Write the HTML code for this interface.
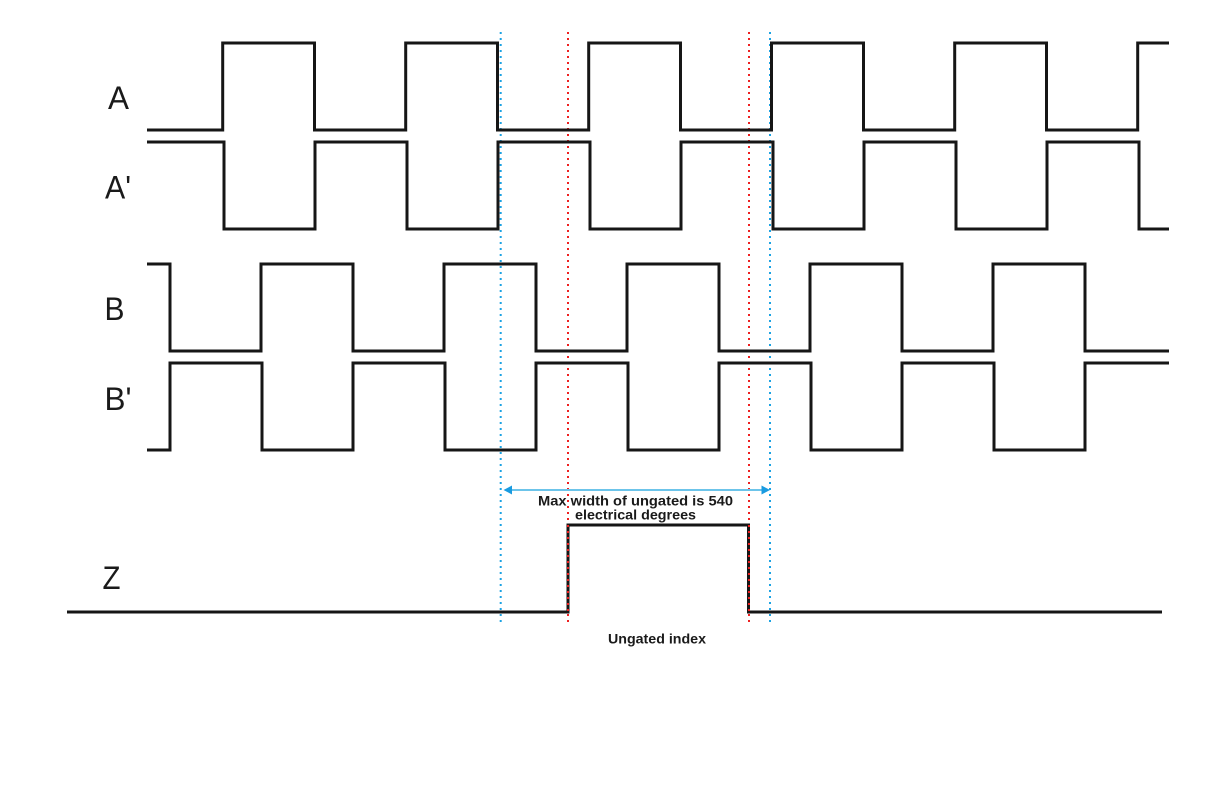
<!DOCTYPE html>
<html>
<head>
<meta charset="utf-8">
<style>
  html,body{margin:0;padding:0;background:#fff;}
  svg{display:block;}
</style>
</head>
<body>
<svg width="1224" height="792" viewBox="0 0 1224 792" xmlns="http://www.w3.org/2000/svg">
  <rect width="1224" height="792" fill="#fff"/>

  <!-- dotted guide lines -->
  <g stroke-width="2" stroke-dasharray="2 4" fill="none">
    <line x1="500.7" y1="32" x2="500.7" y2="622" stroke="#1ca3e3"/>
    <line x1="770" y1="32" x2="770" y2="622" stroke="#1ca3e3"/>
    <line x1="568" y1="32" x2="568" y2="622" stroke="#ee2020"/>
    <line x1="749" y1="32" x2="749" y2="622" stroke="#ee2020"/>
  </g>

  <g stroke="#161616" stroke-width="3" fill="none" stroke-linejoin="miter" stroke-linecap="butt">
    <!-- A -->
    <polyline points="147,130 222.7,130 222.7,43 314.5,43 314.5,130 405.7,130 405.7,43 497.5,43 497.5,130 588.7,130 588.7,43 680.5,43 680.5,130 771.5,130 771.5,43 863.5,43 863.5,130 954.7,130 954.7,43 1046.5,43 1046.5,130 1137.7,130 1137.7,43 1169,43"/>
    <!-- A' -->
    <polyline points="147,142 224,142 224,229 315,229 315,142 407,142 407,229 498,229 498,142 590,142 590,229 681,229 681,142 773,142 773,229 864,229 864,142 956,142 956,229 1047,229 1047,142 1139,142 1139,229 1169,229"/>
    <!-- B -->
    <polyline points="147,264 170,264 170,351 261,351 261,264 353,264 353,351 444,351 444,264 536,264 536,351 627,351 627,264 719,264 719,351 810,351 810,264 902,264 902,351 993,351 993,264 1085,264 1085,351 1169,351"/>
    <!-- B' -->
    <polyline points="147,450 170,450 170,363 262,363 262,450 353,450 353,363 445,363 445,450 536,450 536,363 628,363 628,450 719,450 719,363 811,363 811,450 902,450 902,363 994,363 994,450 1085,450 1085,363 1169,363"/>
    <!-- Z -->
    <polyline points="67,612 568,612 568,525 748.5,525 748.5,612 1162,612"/>
  </g>

  <!-- red dotted overlay on Z edges -->
  <g stroke-width="2" stroke-dasharray="2 4" fill="none" stroke="#ee2020">
    <line x1="568" y1="525" x2="568" y2="612"/>
    <line x1="749" y1="525" x2="749" y2="612"/>
  </g>

  <!-- arrow -->
  <line x1="510" y1="490" x2="763" y2="490" stroke="#6cc4ea" stroke-width="2"/>
  <polygon points="503.5,490 512,485.5 512,494.5" fill="#1a9be0"/>
  <polygon points="770,490 761.5,485.5 761.5,494.5" fill="#1a9be0"/>

  <!-- labels -->
  <g font-family="'Liberation Sans', sans-serif" font-size="32" fill="#1a1a1a">
    <text x="108" y="109" textLength="21" lengthAdjust="spacingAndGlyphs">A</text>
    <text x="105" y="198.5" textLength="26" lengthAdjust="spacingAndGlyphs">A'</text>
    <text x="104.5" y="320" textLength="20" lengthAdjust="spacingAndGlyphs">B</text>
    <text x="104.5" y="410" textLength="27" lengthAdjust="spacingAndGlyphs">B'</text>
    <text x="102.5" y="589" textLength="18" lengthAdjust="spacingAndGlyphs">Z</text>
  </g>

  <g font-family="'Liberation Sans', sans-serif" font-size="13.5" font-weight="bold" fill="#1a1a1a">
    <text x="538" y="505.3" textLength="195" lengthAdjust="spacingAndGlyphs">Max width of ungated is 540</text>
    <text x="575" y="519.5" textLength="121" lengthAdjust="spacingAndGlyphs">electrical degrees</text>
    <text x="608" y="643.3" textLength="98" lengthAdjust="spacingAndGlyphs">Ungated index</text>
  </g>
</svg>
</body>
</html>
